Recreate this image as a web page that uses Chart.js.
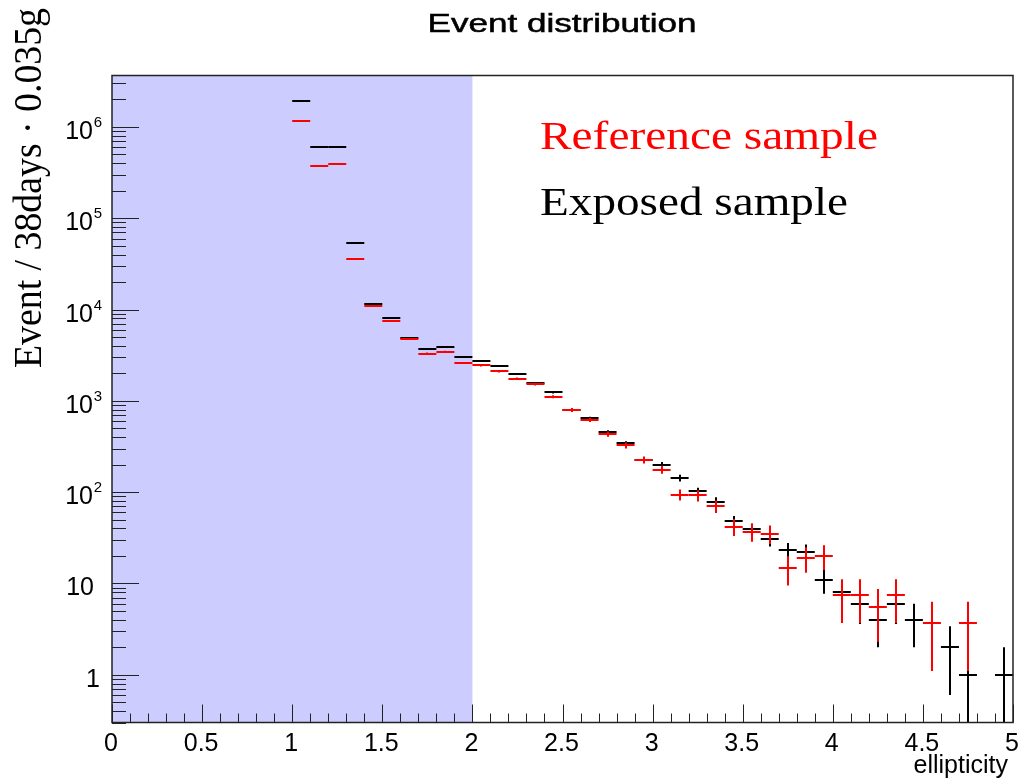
<!DOCTYPE html>
<html>
<head>
<meta charset="utf-8">
<title>Event distribution</title>
<script src="https://cdn.jsdelivr.net/npm/chart.js@4"></script>
<style>
  html, body { margin: 0; padding: 0; background: #fff; }
  canvas { display: block; }
</style>
</head>
<body>
<canvas id="chart_events" width="1019" height="779"></canvas>
<script>
// ellipticity bins, width 0.1
const binCenters = [1.05, 1.15, 1.25, 1.35, 1.45, 1.55, 1.65, 1.75, 1.85, 1.95,
                    2.05, 2.15, 2.25, 2.35, 2.45, 2.55, 2.65, 2.75, 2.85, 2.95,
                    3.05, 3.15, 3.25, 3.35, 3.45, 3.55, 3.65, 3.75, 3.85, 3.95,
                    4.05, 4.15, 4.25, 4.35, 4.45, 4.55, 4.65, 4.75, 4.85, 4.95];
const binWidth = 0.1;

// Exposed sample (black)
const exposedCounts = [1900000, 600000, 610000, 53000, 11400, 8100, 4900, 3660, 3900, 3000,
                       2730, 2400, 1960, 1570, 1240, 800, 646, 455, 342, 226,
                       200, 143, 102, 79, 48, 39, 31, 23, 22, 11,
                       8, 6, 4, 6, 4, null, 2, 1, null, 1];
const exposedErrors = [1378, 775, 781, 230, 107, 90, 70, 60, 62, 55,
                       52, 49, 44, 40, 35, 28, 25, 21, 18, 15,
                       14, 12, 10, 8.9, 6.9, 6.2, 5.6, 4.8, 4.7, 3.3,
                       2.8, 2.4, 2, 2.4, 2, null, 1.4, 1, null, 1];

// Reference sample (red)
const referenceCounts = [1150000, 376000, 389000, 36000, 11000, 7400, 4800, 3300, 3460, 2600,
                         2440, 2100, 1750, 1530, 1110, 793, 621, 433, 325, 226,
                         177, 94, 92, 70, 42, 37, 35, 14.7, 19, 20.1,
                         7.4, 7.4, 5.5, 7.4, null, 3.7, null, 3.7, null, null];
const referenceErrors = [1459, 834, 848, 258, 143, 117, 94, 78, 80, 69,
                         67, 62, 57, 53, 45, 38, 34, 28, 25, 20,
                         18, 13, 13, 11, 8.8, 8.3, 8, 5.2, 5.9, 6.1,
                         3.7, 3.7, 3.2, 3.7, null, 2.6, null, 2.6, null, null];

const xTickValues = [0, 0.5, 1, 1.5, 2, 2.5, 3, 3.5, 4, 4.5, 5];
const xTickLabels = ['0', '0.5', '1', '1.5', '2', '2.5', '3', '3.5', '4', '4.5', '5'];
const yTickValues = [1, 10, 100, 1000, 10000, 100000, 1000000];
const yTickLabels = ['1', '10', '10^2', '10^3', '10^4', '10^5', '10^6'];
const shadedRegion = [0, 2];

function toPoints(counts, errors) {
    return binCenters.map((c, i) => ({x: c, y: counts[i], e: errors[i]}))
                     .filter(p => p.y !== null);
}

// draws text squeezed/stretched to a given width
function fillStretched(ctx, text, x, y, width, align, stroke) {
    const w = ctx.measureText(text).width;
    const sx = width / w;
    ctx.save();
    ctx.translate(x, y);
    ctx.scale(sx, 1);
    ctx.textAlign = align;
    ctx.fillText(text, 0, 0);
    if (stroke) {
        ctx.strokeStyle = ctx.fillStyle;
        ctx.lineWidth = stroke;
        ctx.strokeText(text, 0, 0);
    }
    ctx.restore();
}

const rootStyle = {
    id: 'rootStyle',
    beforeDatasetsDraw(chart) {
        const {ctx, chartArea: a, scales: {x}} = chart;
        ctx.save();
        ctx.fillStyle = '#ccccff';
        const x0 = x.getPixelForValue(shadedRegion[0]);
        const x1 = x.getPixelForValue(shadedRegion[1]);
        ctx.fillRect(x0, a.top, x1 - x0, a.bottom - a.top);
        ctx.restore();
    },
    afterDatasetsDraw(chart) {
        const {ctx, chartArea: a, scales: {x, y}} = chart;

        // histogram markers: bin width bar + error bar
        ctx.save();
        ctx.beginPath();
        ctx.rect(a.left, a.top, a.right - a.left, a.bottom - a.top);
        ctx.clip();
        ctx.lineWidth = 2;
        chart.data.datasets.forEach(ds => {
            ctx.strokeStyle = ds.borderColor;
            ds.data.forEach(p => {
                const xl = x.getPixelForValue(p.x - binWidth / 2);
                const xr = x.getPixelForValue(p.x + binWidth / 2);
                const xc = Math.round(x.getPixelForValue(p.x));
                const yc = Math.round(y.getPixelForValue(p.y));
                const lo = p.y - p.e;
                const yLo = lo > y.min ? y.getPixelForValue(lo) : a.bottom;
                const yHi = y.getPixelForValue(p.y + p.e);
                ctx.beginPath();
                ctx.moveTo(xl, yc);
                ctx.lineTo(xr, yc);
                ctx.moveTo(xc, yHi);
                ctx.lineTo(xc, yLo);
                ctx.stroke();
            });
        });
        ctx.restore();

        ctx.save();
        // frame
        ctx.strokeStyle = '#222';
        ctx.lineWidth = 1.5;
        ctx.strokeRect(a.left, a.top, a.right - a.left, a.bottom - a.top);

        // x ticks
        ctx.lineWidth = 1;
        ctx.beginPath();
        for (let k = 0; k <= 50; k++) {
            const px = Math.round(x.getPixelForValue(k / 10)) + 0.5;
            const len = (k % 5 === 0) ? 18 : 9;
            ctx.moveTo(px, a.bottom);
            ctx.lineTo(px, a.bottom - len);
        }
        // y ticks (log)
        for (let d = -1; d <= 6; d++) {
            for (let m = 1; m <= 9; m++) {
                const v = m * Math.pow(10, d);
                if (v < y.min || v > y.max) continue;
                const py = Math.round(y.getPixelForValue(v)) + 0.5;
                const len = (m === 1) ? 27 : 14;
                ctx.moveTo(a.left, py);
                ctx.lineTo(a.left + len, py);
            }
        }
        ctx.stroke();

        // x tick labels
        ctx.fillStyle = '#000';
        ctx.font = '25px "Liberation Sans", Arial, sans-serif';
        ctx.textAlign = 'center';
        ctx.textBaseline = 'alphabetic';
        xTickValues.forEach((v, i) => {
            ctx.fillText(xTickLabels[i], x.getPixelForValue(v) - 1, 751);
        });

        // y tick labels, 10^n with superscript
        yTickValues.forEach((v, i) => {
            const py = y.getPixelForValue(v);
            const parts = yTickLabels[i].split('^');
            ctx.textAlign = 'right';
            if (parts.length === 2) {
                ctx.font = '15px "Liberation Sans", Arial, sans-serif';
                ctx.fillText(parts[1], 102, py);
                ctx.font = '25px "Liberation Sans", Arial, sans-serif';
                ctx.fillText(parts[0], 93, py + 12);
            } else {
                ctx.font = '25px "Liberation Sans", Arial, sans-serif';
                ctx.fillText(parts[0], parts[0].length > 1 ? 94 : 100, py + 12);
            }
        });

        // title
        ctx.font = '25px "Liberation Sans", Arial, sans-serif';
        fillStretched(ctx, 'Event distribution', 562, 32, 269, 'center', 0.5);

        // x axis title
        ctx.font = '25px "Liberation Sans", Arial, sans-serif';
        ctx.textAlign = 'right';
        ctx.fillText('ellipticity', 1008, 773);

        // y axis title
        ctx.save();
        ctx.translate(41, 188);
        ctx.rotate(-Math.PI / 2);
        ctx.font = '41px "Liberation Serif", "Times New Roman", serif';
        fillStretched(ctx, 'Event / 38days \u00b7 0.035g', 0, 0, 360, 'center');
        ctx.restore();

        // legend text
        ctx.font = '40px "Liberation Serif", "Times New Roman", serif';
        chart.data.datasets.slice().reverse().forEach((ds, i) => {
            ctx.fillStyle = ds.borderColor;
            const w = ds.label === 'Reference sample' ? 338 : 308;
            fillStretched(ctx, ds.label, 540, 149 + 66 * i, w, 'left');
        });
        ctx.restore();
    }
};

const ctx = document.getElementById('chart_events').getContext('2d');
const chart = new Chart(ctx, {
    type: 'scatter',
    data: {
        datasets: [
            {label: 'Exposed sample', data: toPoints(exposedCounts, exposedErrors),
             borderColor: '#000000', backgroundColor: '#000000', pointRadius: 0, showLine: false},
            {label: 'Reference sample', data: toPoints(referenceCounts, referenceErrors),
             borderColor: '#ff0000', backgroundColor: '#ff0000', pointRadius: 0, showLine: false}
        ]
    },
    options: {
        responsive: false,
        animation: false,
        events: [],
        layout: {padding: {left: 112, top: 75.5, right: 6, bottom: 56.5}},
        plugins: {legend: {display: false}, tooltip: {enabled: false}, title: {display: false}},
        scales: {
            x: {type: 'linear', min: 0, max: 5, display: false},
            y: {type: 'logarithmic', min: 0.3, max: 3660000, display: false}
        }
    },
    plugins: [rootStyle]
});
</script>
</body>
</html>
